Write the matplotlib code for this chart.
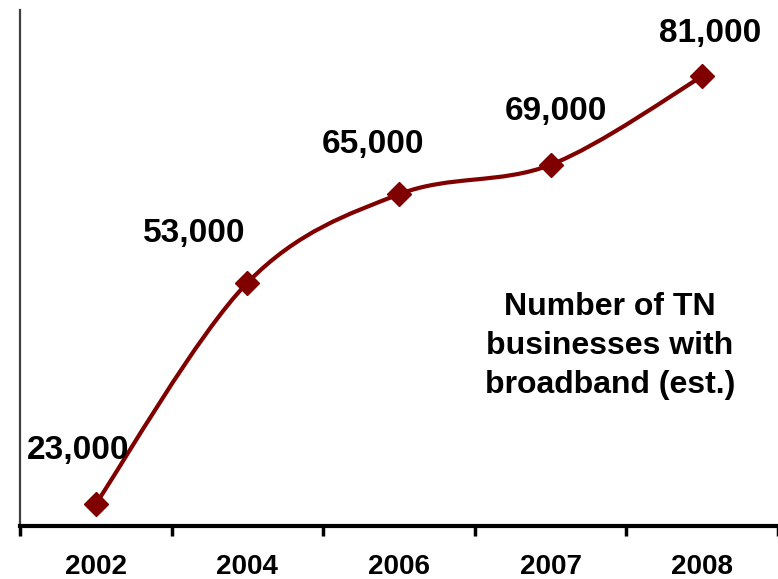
import matplotlib
matplotlib.use("Agg")
import matplotlib.pyplot as plt
from matplotlib.path import Path
from matplotlib.patches import PathPatch
import numpy as np

years = ["2002", "2004", "2006", "2007", "2008"]
businesses = [23000, 53000, 65000, 69000, 81000]
value_labels = ["23,000", "53,000", "65,000", "69,000", "81,000"]
note = "Number of TN\nbusinesses with\nbroadband (est.)"

# label offsets from each point, in points
label_offsets = [(-13, 32), (-38, 29), (-19, 30), (4, 32), (6, 25)]

red = "#800000"
plt.rcParams["font.family"] = ["Liberation Sans", "DejaVu Sans"]
plt.rcParams["font.weight"] = "bold"


def smooth_path(xs, ys):
    # Catmull-Rom style bezier, like spreadsheet "smoothed line"
    pts = np.column_stack([xs, ys]).astype(float)
    n = len(pts)
    verts = [pts[0]]
    codes = [Path.MOVETO]
    for i in range(n - 1):
        p0 = pts[max(i - 1, 0)]
        p1 = pts[i]
        p2 = pts[i + 1]
        p3 = pts[min(i + 2, n - 1)]
        c1 = p1 + (p2 - p0) / 6.0
        c2 = p2 - (p3 - p1) / 6.0
        verts += [c1, c2, p2]
        codes += [Path.CURVE4] * 3
    return Path(verts, codes)


fig = plt.figure(figsize=(7.78, 5.79), dpi=100)
ax = fig.add_axes([20 / 778, 53 / 579, 1 - 20 / 778, (526 - 10) / 579])

x = np.arange(len(years))
ax.add_patch(PathPatch(smooth_path(x, businesses), facecolor="none",
                       edgecolor=red, lw=3, capstyle="round", zorder=2))
ax.plot(x, businesses, linestyle="none", marker="D", markersize=12,
        color=red, zorder=3)

for xi, val, lab, off in zip(x, businesses, value_labels, label_offsets):
    ax.annotate(lab, xy=(xi, val), xytext=off, textcoords="offset points",
                ha="center", va="baseline", fontsize=24, fontweight="bold")

ax.set_xlim(-0.5, len(years) - 0.5)
ax.set_ylim(20000, 90000)

ax.set_xticks(x)
ax.set_xticklabels(years, fontsize=20, fontweight="bold")
ax.set_xticks(np.arange(-0.5, len(years)), minor=True)
ax.tick_params(axis="x", which="major", length=0, pad=20)
ax.tick_params(axis="x", which="minor", length=7.5, width=2.5,
               direction="out", color="black")
ax.set_yticks([])

for side in ["top", "right"]:
    ax.spines[side].set_visible(False)
ax.spines["left"].set_color("#404040")
ax.spines["left"].set_linewidth(1.6)
ax.spines["bottom"].set_color("black")
ax.spines["bottom"].set_linewidth(3)

fig.text(610 / 778, 1 - 346 / 579, note, ha="center", va="center",
         fontsize=23, fontweight="bold", linespacing=1.37)

fig.savefig("out.png", dpi=100)
